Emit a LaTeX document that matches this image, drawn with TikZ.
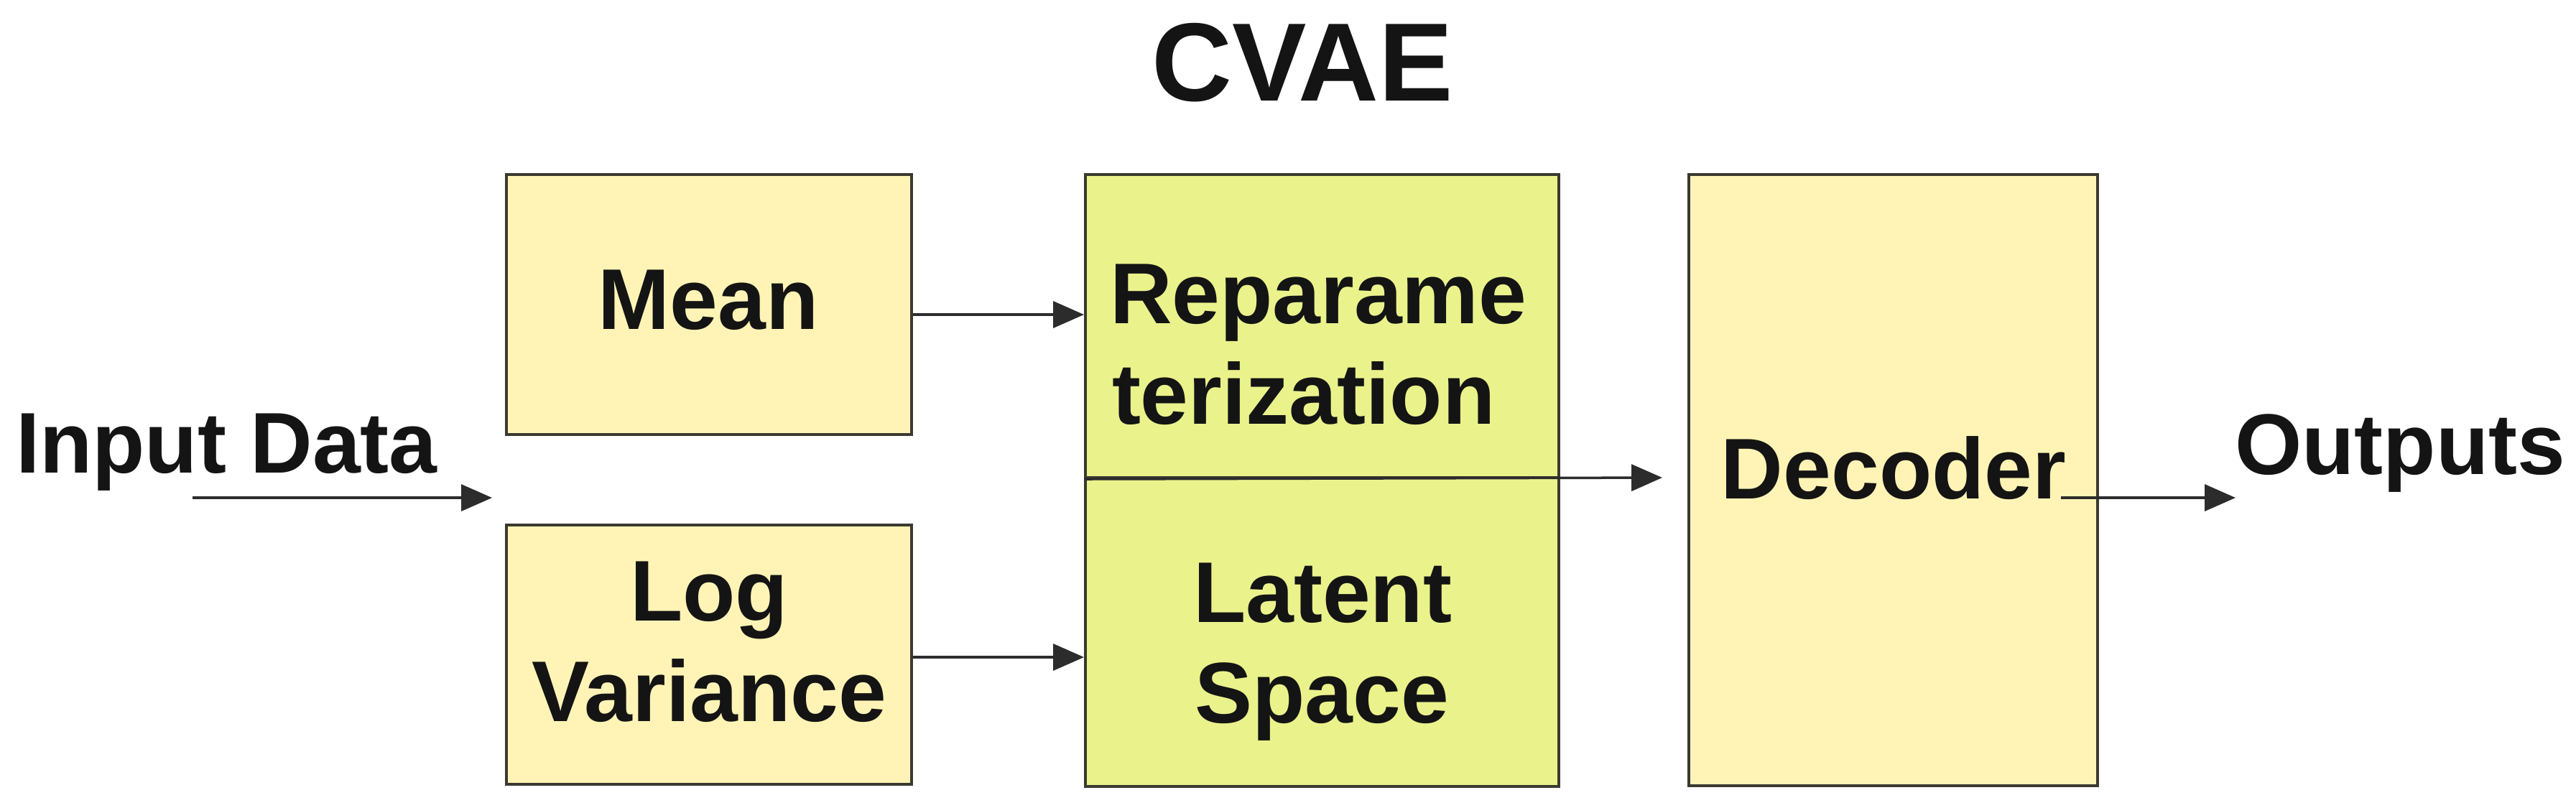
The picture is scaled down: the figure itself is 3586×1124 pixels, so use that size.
\documentclass[tikz,border=0pt]{standalone}
\usepackage{fontspec}
\setmainfont{Liberation Sans}
\usetikzlibrary{arrows.meta}
\definecolor{boxyellow}{HTML}{FFF4B6}
\definecolor{boxgreen}{HTML}{EAF28C}
\definecolor{edgecol}{HTML}{3A3A30}
\definecolor{ink}{HTML}{141414}
\begin{document}
\begin{tikzpicture}[x=0.1pt,y=-0.1pt,
  blk/.style={draw=edgecol,line width=0.4pt,inner sep=0pt,rectangle},
  ylw/.style={blk,fill=boxyellow},
  grn/.style={blk,fill=boxgreen},
  lbl/.style={inner sep=0pt,font=\fontsize{12pt}{14pt}\selectfont\bfseries,text=ink},
  ttl/.style={inner sep=0pt,font=\fontsize{15.5pt}{18pt}\selectfont\bfseries,text=ink},
  arr/.style={draw=ink!90,line width=0.35pt,-{Triangle[length=4.3pt,width=3.7pt]}}
]
\useasboundingbox[fill=white] (0,0) rectangle (3586,1124);

% boxes
\node[ylw,minimum width=56.4pt,minimum height=36.2pt] (mean) at (987,424) {};
\node[ylw,minimum width=56.4pt,minimum height=36.1pt] (logvar) at (987,911.5) {};
\node[grn,minimum width=65.9pt,minimum height=42.2pt] (repar) at (1840.5,454) {};
\node[grn,minimum width=65.9pt,minimum height=43.0pt] (latent) at (1840.5,880) {};
\node[ylw,minimum width=56.9pt,minimum height=85.1pt] (dec) at (2635.5,668.5) {};

% texts
\node[ttl,anchor=base] (title) at (1813,140) {CVAE};
\node[lbl,anchor=base west] (input) at (20,658) {Input Data};
\node[lbl,anchor=base west] (outputs) at (3109,660) {Outputs};
\node[lbl,anchor=base] (meanT) at (986,458) {Mean};
\node[lbl,anchor=base] (logT) at (987,864) {Log};
\node[lbl,anchor=base] (varT) at (987,1004) {Variance};
\node[lbl,anchor=base west] (reparA) at (1543,450) {Reparame};
\node[lbl,anchor=base west] (reparB) at (1546,590) {terization};
\node[lbl,anchor=base] (latA) at (1841,866) {Latent};
\node[lbl,anchor=base] (latB) at (1840,1006) {Space};
\node[lbl,anchor=base] (decT) at (2636,694) {Decoder};

% free connector ends
\coordinate (inS) at (268,693);
\coordinate (inE) at (685,693);
\coordinate (decIn) at (2314,665);
\coordinate (outS) at (2869,693);
\coordinate (outE) at (3112,693);

% connectors
\draw[arr] (inS) -- (inE);
\draw[arr] ([yshift=-1.4pt]mean.east) -- ([yshift=-1.4pt]mean.east -| repar.west);
\draw[arr] ([yshift=-0.35pt]logvar.east) -- ([yshift=-0.35pt]logvar.east -| latent.west);
\draw[arr] (repar.south west) -- (decIn);
\draw[arr] (outS) -- (outE);
\end{tikzpicture}
\end{document}
